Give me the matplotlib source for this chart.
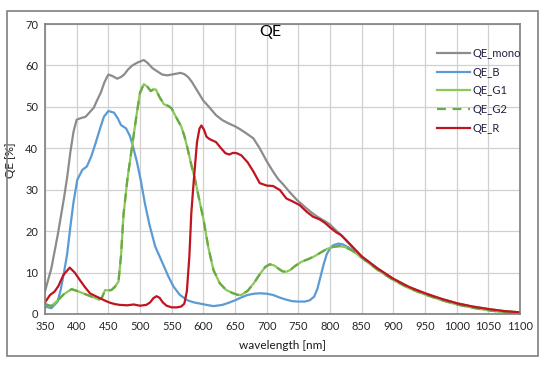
import numpy as np
import matplotlib
matplotlib.use("Agg")
import matplotlib.pyplot as plt
from matplotlib.patches import Rectangle

plt.rcParams['font.family'] = ['Lato', 'DejaVu Sans']

# --- data (wavelength in nm, QE in %) ---
tail_wl = [875, 900, 925, 950, 975, 1000, 1025, 1050, 1075, 1100]
tail_qe = [11.0, 8.5, 6.5, 5.0, 3.7, 2.6, 1.8, 1.2, 0.7, 0.4]

mono_wl = [350, 360, 370, 380, 385, 390, 395, 400, 407, 414, 420, 427, 432, 438,
           444, 450, 457, 464, 470, 475, 481, 488, 496, 506, 512, 520, 527, 535,
           543, 550, 557, 564, 570, 576, 582, 590, 600, 610, 620, 630, 640, 650,
           658, 668, 679, 689, 700, 710, 718, 726, 737, 748, 756, 763, 770, 777,
           784, 792, 800, 810, 820, 830, 840, 850] + tail_wl
mono_qe = [5.5, 11.0, 19.0, 28.0, 33.0, 39.0, 44.0, 46.9, 47.3, 47.6, 48.6, 49.8,
           51.5, 53.4, 56.0, 57.8, 57.4, 56.8, 57.2, 57.8, 59.0, 60.0, 60.7, 61.3,
           60.6, 59.3, 58.6, 57.8, 57.6, 57.8, 58.0, 58.2, 57.9, 57.2, 56.0, 54.0,
           51.5, 49.8, 48.0, 46.8, 46.0, 45.3, 44.6, 43.6, 42.4, 40.0, 36.9, 34.4,
           32.6, 31.3, 29.3, 27.5, 26.4, 25.5, 24.6, 23.8, 23.1, 22.4, 21.6, 20.1,
           18.7, 17.0, 15.4, 13.9] + tail_qe

b_wl = [350, 360, 370, 375, 380, 385, 390, 395, 401, 409, 416, 423, 430, 437, 443,
        450, 459, 465, 470, 478, 484, 489, 495, 501, 508, 515, 524, 535, 545, 553,
        563, 575, 585, 595, 605, 616, 630, 640, 650, 660, 670, 680, 690, 700, 710,
        720, 730, 740, 750, 760, 768, 775, 780, 785, 790, 795, 800, 805, 813, 820,
        830, 840, 850] + tail_wl
b_qe = [1.8, 1.4, 3.0, 6.0, 10.0, 14.5, 21.0, 27.0, 32.4, 34.8, 35.6, 38.0, 41.3,
        44.8, 47.6, 49.0, 48.6, 47.2, 45.6, 44.8, 43.0, 40.4, 36.8, 32.4, 26.5,
        21.5, 16.3, 12.5, 9.0, 6.6, 4.6, 3.3, 2.8, 2.5, 2.2, 1.9, 2.2, 2.7, 3.3,
        4.0, 4.6, 4.9, 5.0, 4.9, 4.6, 4.0, 3.5, 3.1, 3.0, 3.0, 3.3, 4.2, 6.0, 9.0,
        12.0, 14.5, 15.8, 16.6, 17.0, 16.8, 16.0, 14.9, 13.6] + [q - 0.2 for q in tail_qe]

g1_wl = [350, 360, 370, 380, 392, 400, 410, 420, 435, 440, 445, 450, 455, 460, 466,
         470, 474, 480, 489, 495, 500, 506, 512, 517, 521, 525, 531, 538, 545, 550,
         557, 565, 570, 575, 581, 587, 593, 600, 608, 616, 626, 636, 647, 655,
         660, 670, 680, 690, 698, 705, 712, 720, 725, 731, 737, 745, 755, 765, 775,
         785, 795, 805, 815, 825, 835, 845, 850] + tail_wl
g1_qe = [2.4, 1.9, 3.3, 4.8, 6.0, 5.6, 5.0, 4.4, 3.5, 4.0, 5.8, 5.7, 5.8, 6.5, 7.8,
         14.0, 24.0, 32.4, 42.1, 48.5, 53.4, 55.5, 54.8, 53.8, 54.2, 54.2, 52.3,
         50.6, 50.2, 49.6, 47.5, 45.3, 43.0, 40.0, 36.0, 32.4, 28.0, 23.0,
         16.0, 10.6, 7.4, 5.8, 5.0, 4.6, 4.6, 5.6, 7.5, 9.8, 11.4, 12.0, 11.7,
         10.8, 10.3, 10.2, 10.6, 11.6, 12.6, 13.2, 13.9, 14.8, 15.7, 16.2, 16.4,
         16.1, 15.3, 14.2, 13.6] + [q - 0.3 for q in tail_qe]
g2_wl = g1_wl
g2_qe = g1_qe

r_wl = [350, 358, 365, 371, 379, 389, 397, 405, 413, 421, 430, 437, 445, 453, 460,
        468, 480, 490, 500, 510, 516, 521, 526, 531, 536, 542, 550, 558, 565, 570,
        574, 578, 581, 585, 590, 594, 597, 601, 605, 610, 620, 628, 635, 641, 647,
        653, 660, 670, 679, 689, 700, 710, 721, 731, 742, 752, 763, 773, 784, 792,
        800, 810, 817, 825, 835, 845, 850] + tail_wl
r_qe = [2.8, 4.6, 5.4, 6.7, 9.4, 11.2, 10.0, 8.2, 6.5, 5.0, 4.3, 3.8, 3.2, 2.7,
        2.4, 2.2, 2.1, 2.3, 2.0, 2.2, 2.8, 3.8, 4.3, 3.9, 2.8, 2.0, 1.6, 1.6, 1.8,
        2.5, 5.5, 14.0, 24.3, 32.4, 41.5, 44.8, 45.5, 44.5, 42.8, 42.2, 41.5, 40.0,
        38.8, 38.5, 38.9, 38.8, 38.3, 36.6, 34.4, 31.6, 31.0, 30.9, 29.9, 27.9,
        27.1, 26.3, 24.7, 23.5, 22.8, 22.0, 20.9, 19.7, 19.1, 17.9, 16.3, 14.7,
        13.9] + tail_qe

wl_ticks = list(range(350, 1101, 50))
qe_ticks = list(range(0, 71, 10))

# --- figure ---
fig = plt.figure(figsize=(5.48, 3.65), dpi=100)
fig.patches.append(Rectangle((7 / 548, 1 - 356 / 365), 531 / 548, 345 / 365,
                             transform=fig.transFigure, fill=False,
                             edgecolor='#7f7f7f', linewidth=1.2))

ax = fig.add_axes([45 / 548, 1 - 314 / 365, 475 / 548, 290 / 365])

ax.plot(mono_wl, mono_qe, color='#8c8c8c', lw=1.6, label='QE_mono')
ax.plot(b_wl, b_qe, color='#5b9bd5', lw=1.6, label='QE_B')
ax.plot(g1_wl, g1_qe, color='#8cc85a', lw=1.6, label='QE_G1')
ax.plot(g2_wl, g2_qe, color='#6aaa46', lw=1.6, ls=(0, (4, 3)), label='QE_G2')
ax.plot(r_wl, r_qe, color='#c0141e', lw=1.6, label='QE_R')

ax.set_xlim(350, 1100)
ax.set_ylim(0, 70)
ax.set_xticks(wl_ticks)
ax.set_yticks(qe_ticks)
ax.grid(True, color='#d0d0d0', lw=0.9)
ax.set_axisbelow(True)
ax.tick_params(length=0, labelsize=8, colors='#262626', pad=5)
for s in ax.spines.values():
    s.set_color('#7f7f7f')
    s.set_linewidth(1.2)

fig.text(270 / 548, 1 - 32 / 365, 'QE', fontsize=11.5, color='black',
         ha='center', va='center')
ax.set_xlabel('wavelength [nm]', fontsize=8.5, color='#1a1a1a', labelpad=6)
ax.set_ylabel('QE [%]', fontsize=8.5, color='#1a1a1a')
ax.yaxis.set_label_coords(-(45 - 16) / 475, (314 - 160) / 290)

ax.legend(loc='upper left', bbox_to_anchor=(0.825, 0.918), frameon=False,
          fontsize=8, handlelength=3.0, handletextpad=0.25, labelspacing=0.7,
          borderpad=0, borderaxespad=0, labelcolor='#1f1f3f')

fig.savefig('out.png', dpi=100)
